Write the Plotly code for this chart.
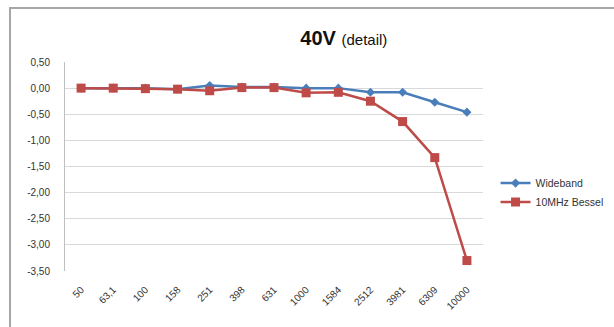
import plotly.graph_objects as go

categories = ["50", "63,1", "100", "158", "251", "398", "631", "1000", "1584", "2512", "3981", "6309", "10000"]
wideband = [0.00, 0.00, 0.00, -0.02, 0.05, 0.02, 0.02, 0.00, 0.00, -0.08, -0.08, -0.27, -0.46]
bessel = [0.00, 0.00, -0.01, -0.02, -0.05, 0.01, 0.01, -0.09, -0.08, -0.25, -0.64, -1.33, -3.30]
ytick_vals = [0.5, 0.0, -0.5, -1.0, -1.5, -2.0, -2.5, -3.0, -3.5]
ytick_text = ["0,50", "0,00", "-0,50", "-1,00", "-1,50", "-2,00", "-2,50", "-3,00", "-3,50"]

fig = go.Figure()
fig.add_trace(go.Scatter(x=categories, y=wideband, name="Wideband", mode="lines+markers",
                         line=dict(color="#4a7ebb", width=2.5),
                         marker=dict(symbol="diamond", size=7, color="#4a7ebb")))
fig.add_trace(go.Scatter(x=categories, y=bessel, name="10MHz Bessel", mode="lines+markers",
                         line=dict(color="#be4b48", width=2.5),
                         marker=dict(symbol="square", size=9, color="#be4b48")))

fig.update_layout(
    width=614, height=327,
    margin=dict(l=65, r=131, t=62, b=56, autoexpand=False),
    paper_bgcolor="white", plot_bgcolor="white",
    font=dict(family="Liberation Sans, Arial, sans-serif", color="#333333"),
    title=dict(text="<b>40V</b> <span style='font-size:15px'>(detail)</span>",
               x=0.56, xanchor="center", y=0.885, yanchor="middle",
               font=dict(size=20, color="#111111")),
    showlegend=True,
    legend=dict(x=1.03, y=0.49, xanchor="left", yanchor="top",
                font=dict(size=10.5, color="#333333"), bgcolor="rgba(0,0,0,0)",
                tracegroupgap=6),
    xaxis=dict(type="category", range=[-0.5, len(categories) - 0.5],
               tickangle=-45, tickfont=dict(size=10, color="#333333"),
               showgrid=False, showline=False, ticks="", ticklabelstandoff=10,
               automargin=False),
    yaxis=dict(range=[-3.5, 0.5], tickvals=ytick_vals, ticktext=ytick_text,
               tickfont=dict(size=10, color="#333333"),
               showgrid=True, gridcolor="#d9d9d9", gridwidth=1,
               zeroline=False, showline=True, linecolor="#bfbfbf", linewidth=1,
               ticks="", ticklabelstandoff=12, automargin=False),
    shapes=[dict(type="rect", xref="paper", yref="paper",
                 x0=-0.1316, x1=1.6, y0=-0.5, y1=1.258,
                 line=dict(color="#a6a6a6", width=2), fillcolor="rgba(0,0,0,0)",
                 layer="below")],
)

fig.write_html("out.html")
